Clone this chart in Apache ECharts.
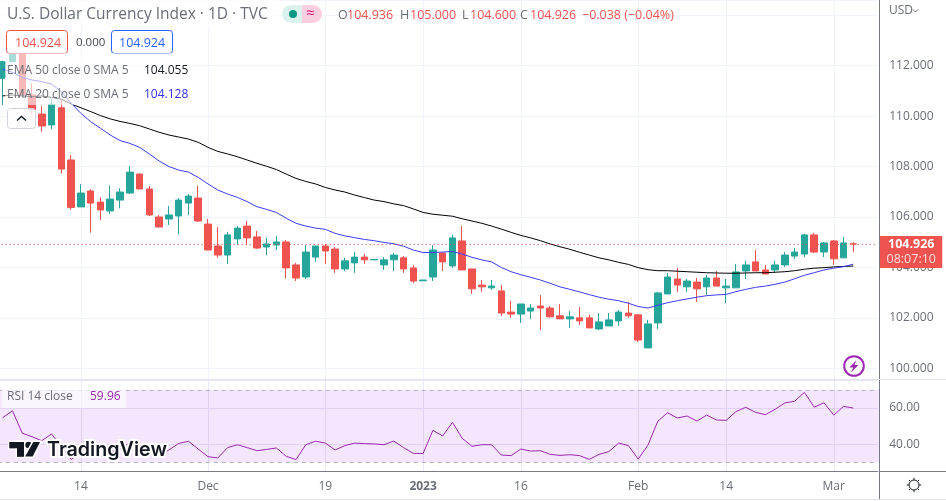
<!DOCTYPE html>
<html>
<head>
<meta charset="utf-8">
<style>html,body{margin:0;padding:0;background:#fff}#c{width:946px;height:501px}</style>
<script src="https://cdn.jsdelivr.net/npm/echarts@6/dist/echarts.min.js"></script>
</head>
<body>
<div id="c"></div>
<script>
const categories = ['2022-11-02','2022-11-03','2022-11-04','2022-11-07','2022-11-08','2022-11-09','2022-11-10','2022-11-11','2022-11-14','2022-11-15','2022-11-16','2022-11-17','2022-11-18','2022-11-21','2022-11-22','2022-11-23','2022-11-24','2022-11-25','2022-11-28','2022-11-29','2022-11-30','2022-12-01','2022-12-02','2022-12-05','2022-12-06','2022-12-07','2022-12-08','2022-12-09','2022-12-12','2022-12-13','2022-12-14','2022-12-15','2022-12-16','2022-12-19','2022-12-20','2022-12-21','2022-12-22','2022-12-23','2022-12-26','2022-12-27','2022-12-28','2022-12-29','2022-12-30','2023-01-02','2023-01-03','2023-01-04','2023-01-05','2023-01-06','2023-01-09','2023-01-10','2023-01-11','2023-01-12','2023-01-13','2023-01-16','2023-01-17','2023-01-18','2023-01-19','2023-01-20','2023-01-23','2023-01-24','2023-01-25','2023-01-26','2023-01-27','2023-01-30','2023-01-31','2023-02-01','2023-02-02','2023-02-03','2023-02-06','2023-02-07','2023-02-08','2023-02-09','2023-02-10','2023-02-13','2023-02-14','2023-02-15','2023-02-16','2023-02-17','2023-02-20','2023-02-21','2023-02-22','2023-02-23','2023-02-24','2023-02-27','2023-02-28','2023-03-01','2023-03-02','2023-03-03',' ','  '];
const opens = [111.50,112.16,112.62,110.84,110.08,109.65,110.33,108.26,106.40,107.03,106.59,106.24,106.67,106.95,107.70,107.11,106.00,105.92,106.04,106.55,106.75,105.72,104.85,104.49,105.13,105.64,105.21,104.81,104.89,105.01,104.10,103.62,104.41,104.85,104.73,103.94,104.18,104.41,104.30,104.10,104.30,104.38,103.98,103.47,103.62,104.57,104.06,105.05,103.94,103.30,103.19,103.07,102.23,102.15,102.27,102.47,102.39,102.08,101.96,102.00,102.00,101.56,101.68,101.88,102.19,102.12,100.81,101.80,102.95,103.54,103.23,103.42,103.23,103.58,103.19,103.19,103.86,104.22,103.90,103.90,104.10,104.45,104.53,105.29,104.61,105.05,104.38,104.936];
const closes = [112.16,112.49,110.84,110.24,109.61,110.47,107.90,106.38,106.95,106.55,106.28,106.71,106.99,107.78,107.11,106.08,105.60,106.08,106.67,106.83,105.84,104.69,104.49,105.29,105.56,105.17,104.77,104.93,105.01,103.98,103.58,104.61,104.85,104.65,103.94,104.26,104.41,104.30,104.32,104.30,104.49,103.94,103.46,103.50,104.69,104.22,105.17,103.90,103.15,103.23,103.26,102.19,102.15,102.55,102.39,102.39,102.04,101.96,102.04,101.88,101.60,101.84,101.92,102.23,102.08,101.12,101.76,102.99,103.62,103.30,103.46,103.15,103.58,103.26,103.26,103.82,104.10,103.86,103.74,104.10,104.49,104.61,105.29,104.61,104.97,104.34,104.97,104.926];
const lows = [110.44,112.16,110.84,110.08,109.38,109.48,107.73,106.28,106.40,105.38,105.88,106.12,106.34,106.91,107.11,106.04,105.60,105.68,105.32,106.08,105.80,104.69,104.38,104.14,104.89,104.89,104.73,104.49,104.69,103.58,103.46,103.54,104.22,104.14,103.78,103.86,103.78,104.14,104.30,103.90,103.86,103.78,103.38,103.47,103.46,103.86,103.98,103.90,102.95,103.03,103.11,102.08,102.00,101.80,101.96,101.52,102.00,101.96,101.60,101.72,101.60,101.52,101.68,101.68,102.00,101.04,100.81,101.56,102.95,103.03,103.03,102.63,102.91,103.26,102.59,103.19,103.54,103.86,103.74,103.78,104.02,104.34,104.41,104.57,104.41,104.10,104.38,104.600];
const highs = [112.20,112.75,112.90,111.30,110.40,110.67,110.64,108.46,107.31,107.10,106.78,107.25,107.14,108.02,107.73,107.23,106.08,106.44,106.75,106.91,107.23,105.92,105.60,105.41,105.64,105.84,105.45,105.17,105.25,105.09,104.18,104.89,104.85,104.93,104.81,104.38,104.61,104.53,104.32,104.41,104.57,104.45,104.10,103.50,104.89,104.61,105.29,105.64,103.94,103.50,103.50,103.30,102.67,102.55,102.55,102.91,102.47,102.55,102.27,102.43,102.12,102.19,102.19,102.31,102.63,102.15,101.92,103.03,103.78,103.98,103.54,103.58,103.70,103.86,103.54,104.14,104.26,104.69,104.10,104.26,104.61,104.77,105.33,105.37,105.01,105.09,105.21,105.000];
const ema50 = [110.80,110.84,110.80,110.77,110.80,110.74,110.67,110.48,110.33,110.18,110.02,109.89,109.79,109.71,109.62,109.49,109.36,109.25,109.17,109.09,108.96,108.76,108.60,108.50,108.39,108.26,108.13,108.01,107.88,107.70,107.53,107.41,107.31,107.17,107.07,106.99,106.87,106.77,106.67,106.61,106.52,106.45,106.32,106.18,106.11,106.07,106.03,105.93,105.84,105.75,105.64,105.52,105.39,105.27,105.17,105.06,104.93,104.82,104.72,104.60,104.49,104.38,104.30,104.20,104.12,103.99,103.91,103.87,103.87,103.85,103.83,103.81,103.79,103.78,103.77,103.77,103.78,103.79,103.79,103.81,103.83,103.87,103.93,103.97,103.99,104.02,104.04,104.055];
const ema20 = [111.85,111.74,111.54,111.43,111.37,111.27,110.97,110.51,110.11,109.78,109.52,109.25,109.03,108.92,108.76,108.50,108.22,108.00,107.86,107.78,107.57,107.31,107.07,106.91,106.78,106.61,106.41,106.30,106.18,105.95,105.75,105.64,105.56,105.51,105.35,105.25,105.18,105.11,105.06,104.99,104.94,104.84,104.69,104.59,104.59,104.61,104.63,104.53,104.40,104.30,104.22,104.00,103.83,103.71,103.61,103.50,103.37,103.23,103.13,103.03,102.92,102.82,102.74,102.68,102.58,102.45,102.39,102.50,102.60,102.68,102.75,102.82,102.88,102.91,102.93,103.04,103.13,103.21,103.26,103.33,103.42,103.55,103.69,103.79,103.90,103.97,104.03,104.128];
const rsi = [54.7,58.5,46.1,44.2,42.0,45.7,38.7,31.7,35.6,34.1,33.2,35.6,37.4,40.9,38.7,35.6,34.1,36.9,40.5,41.7,37.4,33.2,32.5,38.2,39.8,38.2,36.5,37.2,38.0,33.4,31.6,39.8,41.7,40.7,36.9,39.3,40.7,40.4,40.2,39.8,41.8,38.2,35.0,35.0,47.7,44.6,52.1,43.3,38.9,39.8,39.8,34.1,33.8,37.4,36.3,36.5,34.5,33.9,34.3,33.8,31.7,34.5,36.0,40.7,39.3,31.9,39.6,52.7,57.4,54.5,55.6,52.8,56.1,53.4,53.2,58.0,60.4,57.6,56.3,59.3,62.8,63.7,68.6,60.4,62.9,56.1,60.9,59.96];
const xTickDates = ['2022-11-14','2022-12-01','2022-12-19','2023-01-02','2023-01-16','2023-02-01','2023-02-14','2023-03-01'];
const xTickLabels = ['14','Dec','19','2023','16','Feb','14','Mar'];
const priceTicks = [100,102,104,106,108,110,112];
const rsiTicks = [40,60];
const lastPrice = 104.926;
const rsiBand = [30,70];

const FONT = '"Open Sans", "Noto Sans", sans-serif';
const GREY = '#6a6d78', RED = '#ef5350', TEAL = '#26a69a', BLUE = '#2962ff', PURPLE = '#9c27b0', GRID = '#f0f3fa', AX = '#787b86';
const isTick = (i, v) => xTickDates.indexOf(v) >= 0;

function txt(x, y, s, color, size, extra) {
  return { type:'text', x, y, z:100, silent:true, style:Object.assign({ text:s, fill:color, font:(size||12)+'px '+FONT, textVerticalAlign:'middle', textAlign:'left' }, extra||{}) };
}
function box(x, y, w, h, fill, stroke, r) {
  return { type:'rect', z:99, silent:true, shape:{ x, y, width:w, height:h, r:r||0 }, style:{ fill, stroke:stroke||null, lineWidth:stroke?1:0 } };
}
function seg(x1, y1, x2, y2, color, w, z) {
  return { type:'line', z:z||50, silent:true, shape:{ x1, y1, x2, y2 }, style:{ stroke:color, lineWidth:w||1 } };
}
const sun = [];
for (let a = 0; a < 8; a++) {
  const t = a*Math.PI/4, c = Math.cos(t), s = Math.sin(t);
  sun.push(seg(914+c*5.2, 485+s*5.2, 914+c*7.2, 485+s*7.2, '#131722', 1));
}
const graphics = [
  seg(879.5,0,879.5,499,AX,1), seg(879,471.5,946,471.5,AX,1), seg(0,379.5,946,379.5,'#e0e3eb',1), seg(0,499.5,946,499.5,'#e0e3eb',1),
  box(877.76,389.5,1.5,73,'rgba(156,39,240,0.11)'),
  // header
  box(0,0,279,27,'rgba(255,255,255,0.7)'),
  txt(7,14.5,'U.S. Dollar Currency Index · 1D · TVC',GREY,15.5),
  { type:'rect', z:99, silent:true, shape:{x:282,y:5,width:20,height:18,r:[9,0,0,9]}, style:{fill:'#dcf2ee'} },
  { type:'rect', z:99, silent:true, shape:{x:302,y:5,width:20,height:18,r:[0,9,9,0]}, style:{fill:'#fbcfe0'} },
  { type:'circle', z:100, silent:true, shape:{cx:293,cy:14,r:4}, style:{fill:'#089981'} },
  txt(306,13.5,'≈','#d6156e',15),
  txt(338,15,'O',GREY,12.5), txt(347,15,'104.936',RED,12.5),
  txt(400,15,'H',GREY,12.5), txt(410,15,'105.000',RED,12.5),
  txt(462,15,'L',GREY,12.5), txt(470,15,'104.600',RED,12.5),
  txt(520,15,'C',GREY,12.5), txt(530,15,'104.926',RED,12.5),
  txt(582,15,'−0.038 (−0.04%)',RED,12.5),
  // quote boxes
  box(6.5,30.5,61,23,'#fff',RED,3), txt(15,43,'104.924',RED,12.5),
  txt(76,42.5,'0.000','#434651',11.5),
  box(111.5,30.5,61,23,'#fff',BLUE,3), txt(119,43,'104.924',BLUE,12.5),
  // indicator legends
  box(5,53,187,52,'rgba(255,255,255,0.6)'),
  txt(7,71,'EMA 50 close 0 SMA 5',GREY,12), txt(144,71,'104.055','#131722',12),
  txt(7,94.5,'EMA 20 close 0 SMA 5',GREY,12), txt(144,94.5,'104.128','#3232f0',12),
  box(7.5,108.5,28,20,'rgba(255,255,255,0.8)','#d1d4dc',3),
  { type:'polyline', z:100, silent:true, shape:{points:[[17,120.5],[21.5,116.5],[26,120.5]]}, style:{stroke:'#131722',lineWidth:1.4,fill:null} },
  // RSI legend
  box(2,388,124,20,'rgba(255,255,255,0.6)'),
  txt(7,396.5,'RSI 14 close',GREY,12), txt(90,396.5,'59.96',PURPLE,12),
  // logo
  { type:'rect', z:100, silent:true, shape:{x:9.5,y:442,width:14.5,height:6.2}, style:{fill:'#131722',stroke:'#fff',lineWidth:3,strokeFirst:true} },
  { type:'rect', z:100, silent:true, shape:{x:17,y:442,width:7,height:14.6}, style:{fill:'#131722',stroke:'#fff',lineWidth:3,strokeFirst:true} },
  { type:'circle', z:100, silent:true, shape:{cx:28.5,cy:445,r:3.2}, style:{fill:'#131722',stroke:'#fff',lineWidth:3,strokeFirst:true} },
  { type:'polygon', z:100, silent:true, shape:{points:[[33.3,442],[40,442],[32.7,456.6],[25.2,456.6]]}, style:{fill:'#131722',stroke:'#fff',lineWidth:3,strokeFirst:true} },
  { type:'rect', z:100, silent:true, shape:{x:17,y:442,width:7,height:14.6}, style:{fill:'#131722'} },
  { type:'rect', z:100, silent:true, shape:{x:9.5,y:442,width:14.5,height:6.2}, style:{fill:'#131722'} },
  { type:'text', x:47, y:450, z:100, silent:true, style:{ text:'TradingView', fill:'#131722', stroke:'#fff', lineWidth:4, strokeFirst:true, font:'600 19.7px Inter, sans-serif', textVerticalAlign:'middle' } },
  // right column
  txt(889,10.5,'USD',GREY,12),
  { type:'polyline', z:100, silent:true, shape:{points:[[913,9.5],[915.5,12],[918,9.5]]}, style:{stroke:GREY,lineWidth:1,fill:null} },
  { type:'circle', z:100, silent:true, shape:{cx:854,cy:366,r:9.8}, style:{fill:'#fff',stroke:PURPLE,lineWidth:2} },
  { type:'polygon', z:101, silent:true, shape:{points:[[856.5,360],[849.5,367.5],[853.2,367.5],[851,372.5],[858.5,365],[854.6,365]]}, style:{fill:PURPLE} },
  { type:'circle', z:100, silent:true, shape:{cx:914,cy:485,r:5}, style:{fill:'#fff',stroke:'#131722',lineWidth:1} },
  ...sun
];

const chart = echarts.init(document.getElementById('c'), null, { renderer:'canvas' });
const left = -2.19, right = 946-877.76;
chart.setOption({
  animation:false,
  backgroundColor:'#ffffff',
  textStyle:{ fontFamily:FONT },
  grid:[
    { left, right, top:0, height:379, outerBoundsMode:'none' },
    { left, right, top:380, height:91, outerBoundsMode:'none' }
  ],
  xAxis:[
    { type:'category', data:categories, gridIndex:0, boundaryGap:true,
      axisLine:{show:false}, axisTick:{show:false}, axisLabel:{show:false},
      splitLine:{show:true, interval:isTick, alignWithLabel:true, lineStyle:{color:GRID,width:1}} },
    { type:'category', data:categories, gridIndex:1, boundaryGap:true,
      axisLine:{show:true, lineStyle:{color:AX,width:1}}, axisTick:{show:false},
      axisLabel:{ show:true, interval:isTick, color:GREY, fontSize:12, margin:10, fontFamily:FONT, hideOverlap:false,
        formatter:(v)=>{ const i=xTickDates.indexOf(v); if(i<0) return ''; const s=xTickLabels[i]; return /^\d{4}$/.test(s)?'{b|'+s+'}':s; },
        rich:{ b:{fontWeight:'bold',color:GREY,fontSize:12,fontFamily:FONT} } },
      splitLine:{show:true, interval:isTick, alignWithLabel:true, lineStyle:{color:'#ece7f6',width:1}} }
  ],
  yAxis:[
    { type:'value', gridIndex:0, position:'right', offset:1.5, min:99.576, max:114.604, splitNumber:7,
      axisLine:{show:false}, axisTick:{show:false},
      axisLabel:{ color:GREY, fontSize:12, margin:10, padding:[4,0,0,0], fontFamily:FONT, showMinLabel:false, showMaxLabel:false,
        formatter:(v)=> priceTicks.indexOf(Math.round(v*1000)/1000)>=0 ? v.toFixed(3) : '' },
      splitLine:{show:true, lineStyle:{color:GRID,width:1}} },
    { type:'value', gridIndex:1, position:'right', offset:1.5, min:25.33, max:75.41, splitNumber:3,
      axisLine:{show:false}, axisTick:{show:false},
      axisLabel:{ color:GREY, fontSize:12, margin:10, padding:[4,0,0,0], fontFamily:FONT, showMinLabel:false, showMaxLabel:false,
        formatter:(v)=> rsiTicks.indexOf(Math.round(v*100)/100)>=0 ? v.toFixed(2) : '' },
      splitLine:{show:true, lineStyle:{color:'#ece7f6',width:1}} }
  ],
  series:[
    { name:'USD Index', type:'candlestick', xAxisIndex:0, yAxisIndex:0, barWidth:7, z:3,
      data:opens.map((o,i)=>[o,closes[i],lows[i],highs[i]]),
      itemStyle:{ color:TEAL, color0:RED, borderColor:TEAL, borderColor0:RED, borderWidth:1 },
      markLine:{ silent:true, symbol:'none', animation:false, z:6,
        lineStyle:{ color:RED, type:[1,3], width:1 },
        label:{ show:true, position:'end', distance:1.5, offset:[0,8],
          formatter:()=>'{p|'+lastPrice.toFixed(3)+'}\n{t|08:07:10}',
          backgroundColor:RED, padding:[1,3,1,4],
          rich:{ p:{color:'#fff',fontWeight:'bold',fontSize:12.5,fontFamily:FONT,lineHeight:15,align:'center',width:56}, t:{color:'rgba(255,255,255,0.8)',fontSize:12.5,fontFamily:FONT,lineHeight:15,align:'center',width:56} } },
        data:[{ yAxis:lastPrice }] } },
    { name:'EMA 50', type:'line', xAxisIndex:0, yAxisIndex:0, data:ema50, showSymbol:false, symbol:'none', z:4,
      lineStyle:{color:'#000000',width:1} },
    { name:'EMA 20', type:'line', xAxisIndex:0, yAxisIndex:0, data:ema20, showSymbol:false, symbol:'none', z:4,
      lineStyle:{color:'#3c3cf5',width:1} },
    { name:'RSI 14', type:'line', xAxisIndex:1, yAxisIndex:1, data:rsi, showSymbol:false, symbol:'none', z:4,
      lineStyle:{color:PURPLE,width:1},
      markArea:{ silent:true, itemStyle:{color:'rgba(156,39,240,0.11)'}, data:[[{yAxis:rsiBand[0]},{yAxis:rsiBand[1]}]] },
      markLine:{ silent:true, symbol:'none', label:{show:false}, lineStyle:{color:'#b2b5be',type:[4,4],width:1},
        data:rsiBand.map(v=>({yAxis:v})) } }
  ],
  graphic:{ elements:graphics }
});
</script>
</body>
</html>
